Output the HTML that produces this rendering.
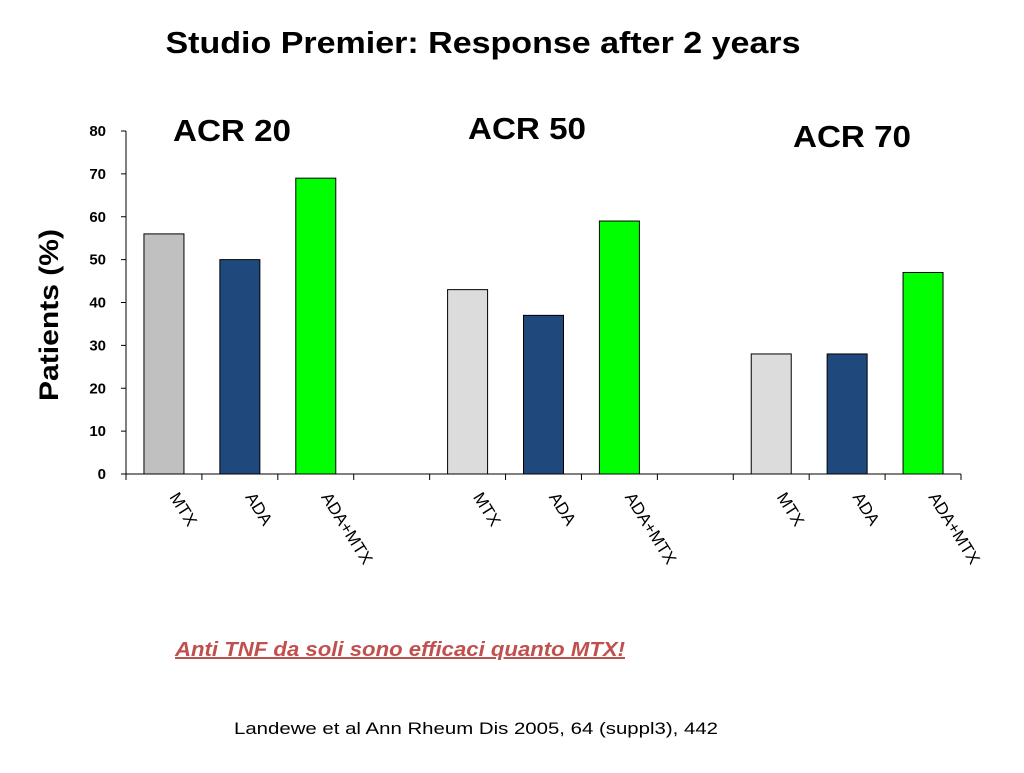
<!DOCTYPE html>
<html><head><meta charset="utf-8"><style>
body{margin:0;background:#fff;width:1024px;height:768px;overflow:hidden;font-family:"Liberation Sans",sans-serif}
</style></head><body>
<svg width="1024" height="768">
<text x="483" y="53" text-anchor="middle" font-size="31" font-weight="bold" textLength="635" lengthAdjust="spacingAndGlyphs">Studio Premier: Response after 2 years</text>
<text x="232" y="141" text-anchor="middle" font-size="31" font-weight="bold" textLength="118" lengthAdjust="spacingAndGlyphs">ACR 20</text>
<text x="527" y="139" text-anchor="middle" font-size="31" font-weight="bold" textLength="118" lengthAdjust="spacingAndGlyphs">ACR 50</text>
<text x="852" y="147" text-anchor="middle" font-size="31" font-weight="bold" textLength="118" lengthAdjust="spacingAndGlyphs">ACR 70</text>
<text transform="translate(58,315) rotate(-90)" text-anchor="middle" font-size="27" font-weight="bold" textLength="172" lengthAdjust="spacingAndGlyphs">Patients (%)</text>
<g id="plot"></g>
<text x="400" y="656" text-anchor="middle" font-size="20" font-weight="bold" font-style="italic" fill="#c0504d" text-decoration="underline" textLength="450" lengthAdjust="spacingAndGlyphs">Anti TNF da soli sono efficaci quanto MTX!</text>
<text x="476" y="734" text-anchor="middle" font-size="17" textLength="484" lengthAdjust="spacingAndGlyphs">Landewe et al Ann Rheum Dis 2005, 64 (suppl3), 442</text>
</svg>
<script>
const categories=["MTX","ADA","ADA+MTX","","MTX","ADA","ADA+MTX","","MTX","ADA","ADA+MTX"];
const values=[56,50,69,null,43,37,59,null,28,28,47];
const colors=["#c0c0c0","#1f497d","#00ff00",null,"#dcdcdc","#1f497d","#00ff00",null,"#dcdcdc","#1f497d","#00ff00"];
const yTicks=[0,10,20,30,40,50,60,70,80];
const NS="http://www.w3.org/2000/svg";
const g=document.getElementById('plot');
const x0=126,x1=961,y0=474,y1=131,ymax=80;
const bw=(x1-x0)/categories.length;
const ys=v=>y0-(v/ymax)*(y0-y1);
function mk(t,a){const e=document.createElementNS(NS,t);for(const k in a)e.setAttribute(k,a[k]);g.appendChild(e);return e;}
let e=mk('line',{x1:x0,y1:y1,x2:x0,y2:y0,stroke:'#000'});


e=mk('line',{x1:x0,y1:y0,x2:x1,y2:y0,stroke:'#000'});


yTicks.forEach(v=>{
 const y=ys(v);
 mk('line',{x1:x0-5,y1:y,x2:x0,y2:y,stroke:'#000'});
 const t=mk('text',{x:x0-20,y:y+5,'text-anchor':'end','font-size':15,'font-weight':'bold'});
 t.textContent=v;
 
 
});
for(let i=0;i<=categories.length;i++){const x=x0+i*bw;mk('line',{x1:x,y1:y0,x2:x,y2:y0+6,stroke:'#000'});}
categories.forEach((c,i)=>{
 const cx=x0+(i+0.5)*bw;
 if(values[i]!=null){
  const r=mk('rect',{x:cx-20,y:ys(values[i]),width:40,height:y0-ys(values[i]),fill:colors[i],stroke:'#000','stroke-width':1});
  
  
 }
 if(c){
  const t=mk('text',{transform:`translate(${cx+5},${497}) rotate(58)`,'font-size':17});
  t.textContent=c;
  
  
 }
});
</script>
</body></html>
